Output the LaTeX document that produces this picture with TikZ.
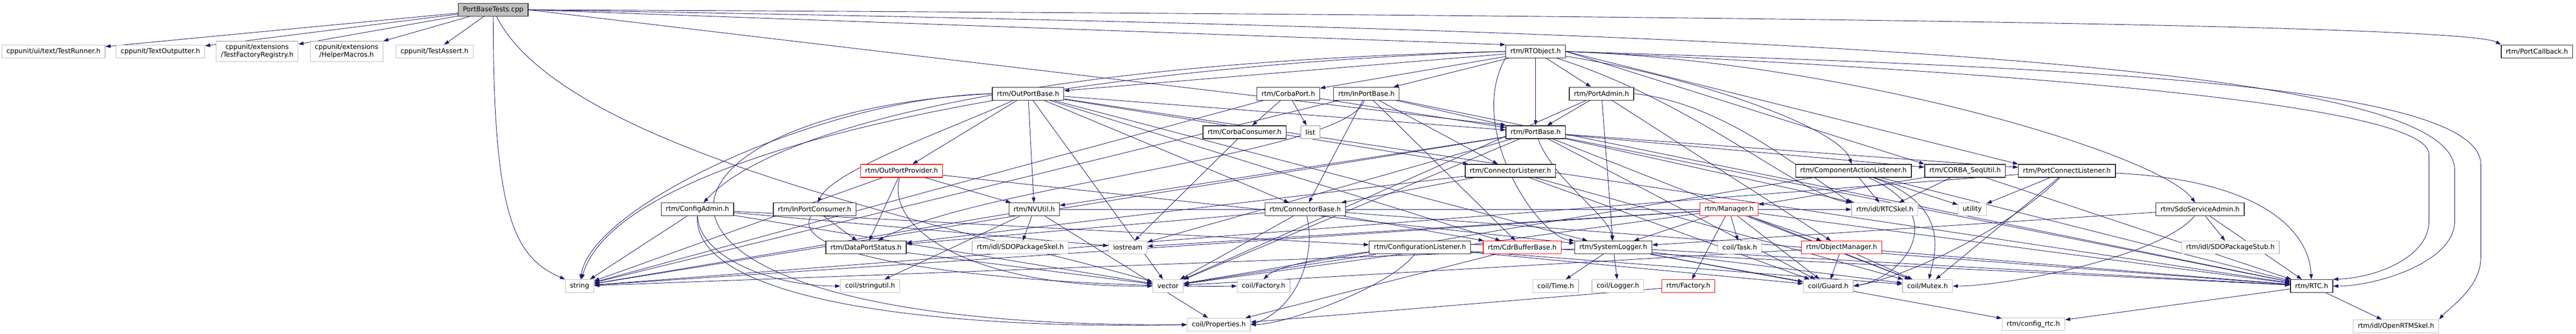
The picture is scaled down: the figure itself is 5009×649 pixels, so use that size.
\documentclass[tikz,border=0pt]{standalone}
\usepackage{fontspec}
\setmainfont{DejaVu Sans}
\usetikzlibrary{arrows.meta}
\definecolor{edgeblue}{RGB}{25,25,112}
\definecolor{extgray}{RGB}{191,191,191}
\pgfdeclarelayer{edges}
\pgfsetlayers{edges,main}
\tikzset{
  file/.style = {draw, fill = white, line width = 1.3pt, inner xsep = 9pt,
    inner ysep = 0pt, minimum height = 25pt, align = center,
    font = \fontsize{13}{15}\selectfont},
  docfile/.style = {file, draw = black!85},
  extfile/.style = {file, draw = extgray},
  cutfile/.style = {file, draw = red},
  rootfile/.style = {file, draw = black!85, fill = extgray},
  dep/.style = {edgeblue, line width = 0.9pt,
    -{Triangle[length = 10pt, width = 7pt]}}
}

\begin{document}
\begin{tikzpicture}[x = 1pt, y = -1pt]
  \useasboundingbox (0, 0) rectangle (5009, 649);

  \node[rootfile] (root) at (959, 19) {PortBaseTests.cpp};

  \node[extfile] (runner) at (104, 100) {cppunit/ui/text/TestRunner.h};
  \node[extfile] (outputter) at (312, 100) {cppunit/TextOutputter.h};
  \node[extfile, minimum height = 40pt] (registry) at (500, 100) {cppunit/extensions\\/TestFactoryRegistry.h};
  \node[extfile, minimum height = 40pt] (macros) at (674, 100) {cppunit/extensions\\/HelperMacros.h};
  \node[extfile] (assert) at (845, 100) {cppunit/TestAssert.h};
  \node[docfile] (rtobject) at (2986, 100) {rtm/RTObject.h};
  \node[docfile] (callback) at (4933, 100) {rtm/PortCallback.h};

  \node[docfile] (outportbase) at (1999, 182) {rtm/OutPortBase.h};
  \node[docfile] (corbaport) at (2505, 182) {rtm/CorbaPort.h};
  \node[docfile] (inportbase) at (2657, 182) {rtm/InPortBase.h};
  \node[docfile] (portadmin) at (3114, 182) {rtm/PortAdmin.h};

  \node[docfile] (corbaconsumer) at (2420, 257) {rtm/CorbaConsumer.h};
  \node[extfile] (list) at (2548, 257) {list};
  \node[docfile] (portbase) at (2986, 257) {rtm/PortBase.h};

  \node[cutfile] (outportprovider) at (1753, 332) {rtm/OutPortProvider.h};
  \node[docfile] (connlistener) at (2937, 332) {rtm/ConnectorListener.h};
  \node[docfile] (compaction) at (3604, 332) {rtm/ComponentActionListener.h};
  \node[docfile] (sequtil) at (3821, 332) {rtm/CORBA\_SeqUtil.h};
  \node[docfile] (portconnect) at (4019, 332) {rtm/PortConnectListener.h};

  \node[docfile] (configadmin) at (1356, 407) {rtm/ConfigAdmin.h};
  \node[docfile] (inportconsumer) at (1584, 407) {rtm/InPortConsumer.h};
  \node[docfile] (nvutil) at (2011, 407) {rtm/NVUtil.h};
  \node[docfile] (connbase) at (2538, 407) {rtm/ConnectorBase.h};
  \node[cutfile] (manager) at (3362, 407) {rtm/Manager.h};
  \node[extfile] (rtcskel) at (3665, 407) {rtm/idl/RTCSkel.h};
  \node[extfile] (utility) at (3835, 407) {utility};
  \node[docfile] (sdoadmin) at (4278, 407) {rtm/SdoServiceAdmin.h};

  \node[docfile] (portstatus) at (1684, 481) {rtm/DataPortStatus.h};
  \node[extfile] (sdoskel) at (1984, 481) {rtm/idl/SDOPackageSkel.h};
  \node[extfile] (iostream) at (2193, 481) {iostream};
  \node[docfile] (conflistener) at (2761, 481) {rtm/ConfigurationListener.h};
  \node[cutfile] (cdrbuffer) at (2960, 481) {rtm/CdrBufferBase.h};
  \node[docfile] (syslogger) at (3137, 481) {rtm/SystemLogger.h};
  \node[extfile] (task) at (3383, 481) {coil/Task.h};
  \node[cutfile] (objmanager) at (3581, 481) {rtm/ObjectManager.h};
  \node[extfile] (sdostub) at (4337, 481) {rtm/idl/SDOPackageStub.h};

  \node[extfile] (string) at (1127, 556) {string};
  \node[extfile] (stringutil) at (1692, 556) {coil/stringutil.h};
  \node[extfile] (vector) at (2271, 556) {vector};
  \node[extfile] (coilfactory) at (2457, 556) {coil/Factory.h};
  \node[extfile] (time) at (3025, 556) {coil/Time.h};
  \node[extfile] (logger) at (3146, 556) {coil/Logger.h};
  \node[cutfile] (rtmfactory) at (3283, 556) {rtm/Factory.h};
  \node[extfile] (guard) at (3555, 556) {coil/Guard.h};
  \node[extfile] (mutex) at (3748, 556) {coil/Mutex.h};
  \node[docfile] (rtc) at (4495, 556) {rtm/RTC.h};

  \node[extfile] (properties) at (2370, 631) {coil/Properties.h};
  \node[extfile] (configrtc) at (3954, 630) {rtm/config\_rtc.h};
  \node[extfile] (openrtm) at (4659, 634) {rtm/idl/OpenRTMSkel.h};

  \begin{pgfonlayer}{edges}
  \draw[dep] (root) -- (runner);
  \draw[dep] (root) -- (outputter);
  \draw[dep] (root) -- (registry);
  \draw[dep] (root) -- (macros);
  \draw[dep] (root) -- (assert);
  \draw[dep] (root.south) .. controls (959, 420) and (1000, 500) .. (string.north west);
  \draw[dep] (root) .. controls (1100, 300) and (1900, 450) .. (vector);
  \draw[dep] (root.east) -- (rtobject.north west);
  \draw[dep] (root.east) -- (portbase.north west);
  \draw[dep] (root.east) .. controls (3500, 30) and (4800, 50) .. (callback.north west);
  \draw[dep] (root.east) .. controls (3500, 60) and (4773, 120) .. (4773, 330)
    -- (4773, 430) .. controls (4773, 510) and (4620, 556) .. (rtc.east);

  \draw[dep] (rtobject) -- (outportbase);
  \draw[dep] (rtobject) -- (corbaport);
  \draw[dep] (rtobject) -- (inportbase);
  \draw[dep] (rtobject) -- (portadmin);
  \draw[dep] (rtobject) -- (portbase);
  \draw[dep] (rtobject.west) .. controls (2000, 120) and (1500, 250) .. (configadmin);
  \draw[dep] (rtobject.west) .. controls (2000, 130) and (1200, 300) .. (string);
  \draw[dep] (rtobject.south west) .. controls (2850, 250) and (2990, 460) .. (syslogger.north west);
  \draw[dep] (rtobject) .. controls (3300, 150) and (3580, 250) .. (compaction);
  \draw[dep] (rtobject.east) -- (sequtil.north west);
  \draw[dep] (rtobject.east) -- (portconnect.north west);
  \draw[dep] (rtobject.east) .. controls (3600, 120) and (4200, 300) .. (sdoadmin);
  \draw[dep] (rtobject) .. controls (3300, 200) and (3500, 380) .. (rtcskel.north west);
  \draw[dep] (rtobject.east) .. controls (3900, 140) and (4723, 200) .. (4723, 300)
    -- (4723, 430) .. controls (4723, 500) and (4620, 540) .. (rtc.north east);
  \draw[dep] (rtobject.east) .. controls (4000, 130) and (4824, 160) .. (4824, 320)
    -- (4824, 500) .. controls (4824, 560) and (4760, 600) .. (openrtm.north east);

  \draw[dep] (outportbase) -- (portbase);
  \draw[dep] (outportbase) -- (outportprovider);
  \draw[dep] (outportbase) .. controls (1850, 250) and (1620, 330) .. (inportconsumer);
  \draw[dep] (outportbase) -- (connbase);
  \draw[dep] (outportbase) -- (connlistener);
  \draw[dep] (outportbase) -- (cdrbuffer);
  \draw[dep] (outportbase) -- (syslogger);
  \draw[dep] (outportbase) -- (nvutil);
  \draw[dep] (outportbase.west) .. controls (1600, 190) and (1150, 400) .. (string);
  \draw[dep] (outportbase) -- (vector);
  \draw[dep] (outportbase.west) .. controls (1200, 220) and (1100, 640) .. (properties.west);
  \draw[dep] (outportbase) -- (rtc);

  \draw[dep] (corbaport) -- (portbase);
  \draw[dep] (corbaport) -- (corbaconsumer);
  \draw[dep] (corbaport) -- (list);
  \draw[dep] (corbaport) -- (string);

  \draw[dep] (inportbase) -- (portbase);
  \draw[dep] (inportbase) -- (connlistener);
  \draw[dep] (inportbase) -- (cdrbuffer);
  \draw[dep] (inportbase) -- (connbase);
  \draw[dep] (inportbase) .. controls (2620, 300) and (1900, 360) .. (portstatus);
  \draw[dep] (inportbase) -- (rtc);
  \draw[dep] (inportbase) -- (string);

  \draw[dep] (portadmin) -- (portbase);
  \draw[dep] (portadmin) -- (syslogger);
  \draw[dep] (portadmin) -- (objmanager);
  \draw[dep] (portadmin.east) .. controls (3350, 200) and (3500, 330) .. (rtcskel.north west);
  \draw[dep] (portadmin) -- (vector);

  \draw[dep] (corbaconsumer) -- (iostream);

  \draw[dep] (portbase) -- (string);
  \draw[dep] (portbase) -- (vector);
  \draw[dep] (portbase) -- (rtcskel);
  \draw[dep] (portbase) -- (sequtil);
  \draw[dep] (portbase) -- (nvutil);
  \draw[dep] (portbase) .. controls (3020, 350) and (3130, 420) .. (syslogger);
  \draw[dep] (portbase) -- (portconnect);
  \draw[dep] (portbase) -- (guard);
  \draw[dep] (portbase) -- (mutex);
  \draw[dep] (portbase) -- (rtc);
  \draw[dep] (portbase) -- (iostream);

  \draw[dep] (outportprovider) -- (string);
  \draw[dep] (outportprovider) -- (portstatus);
  \draw[dep] (outportprovider) -- (nvutil);
  \draw[dep] (outportprovider) .. controls (1720, 450) and (1900, 560) .. (vector.west);
  \draw[dep] (outportprovider) -- (syslogger);

  \draw[dep] (connlistener) -- (connbase);
  \draw[dep] (connlistener) -- (portstatus);
  \draw[dep] (connlistener) -- (guard);
  \draw[dep] (connlistener) -- (mutex);

  \draw[dep] (compaction) -- (rtcskel);
  \draw[dep] (compaction) -- (utility);
  \draw[dep] (compaction) .. controls (3800, 420) and (3700, 540) .. (guard.east);
  \draw[dep] (compaction) .. controls (3800, 400) and (3760, 500) .. (mutex);
  \draw[dep] (compaction) -- (vector);
  \draw[dep] (compaction) -- (rtc);

  \draw[dep] (sequtil) -- (rtcskel);
  \draw[dep] (sequtil) -- (manager);
  \draw[dep] (sequtil) -- (rtc);

  \draw[dep] (portconnect) -- (utility);
  \draw[dep] (portconnect) .. controls (3900, 450) and (3700, 540) .. (guard.east);
  \draw[dep] (portconnect) -- (mutex);
  \draw[dep] (portconnect) .. controls (4400, 350) and (4490, 450) .. (rtc);
  \draw[dep] (portconnect) -- (string);

  \draw[dep] (configadmin) -- (conflistener);
  \draw[dep] (configadmin) -- (iostream);
  \draw[dep] (configadmin) -- (string);
  \draw[dep] (configadmin) -- (vector);
  \draw[dep] (configadmin) .. controls (1360, 500) and (1500, 556) .. (stringutil.west);
  \draw[dep] (configadmin) .. controls (1350, 600) and (1900, 640) .. (properties.west);

  \draw[dep] (inportconsumer) -- (portstatus);
  \draw[dep] (inportconsumer) .. controls (1520, 520) and (2100, 560) .. (coilfactory.west);

  \draw[dep] (nvutil) -- (sdoskel);
  \draw[dep] (nvutil) -- (string);
  \draw[dep] (nvutil) -- (stringutil);
  \draw[dep] (nvutil) -- (properties);
  \draw[dep] (nvutil) -- (rtcskel);

  \draw[dep] (connbase) -- (portstatus);
  \draw[dep] (connbase) -- (cdrbuffer);
  \draw[dep] (connbase) .. controls (2560, 500) and (2520, 600) .. (properties.east);
  \draw[dep] (connbase) -- (vector);
  \draw[dep] (connbase) -- (rtc);

  \draw[dep] (manager) -- (syslogger);
  \draw[dep] (manager) -- (task);
  \draw[dep] (manager) -- (rtmfactory);
  \draw[dep] (manager) -- (guard);
  \draw[dep] (manager) -- (mutex);
  \draw[dep] (manager) -- (objmanager);
  \draw[dep] (manager) -- (rtc);
  \draw[dep] (manager) -- (string);
  \draw[dep] (manager) -- (vector);
  \draw[dep] (manager) -- (iostream);

  \draw[dep] (sdoadmin) -- (sdostub);
  \draw[dep] (sdoadmin) -- (syslogger);
  \draw[dep] (sdoadmin) .. controls (4200, 500) and (3900, 556) .. (mutex.east);
  \draw[dep] (sdoadmin) -- (rtc);

  \draw[dep] (portstatus) -- (vector);

  \draw[dep] (conflistener) .. controls (2700, 560) and (2500, 630) .. (properties.east);
  \draw[dep] (conflistener) -- (guard);
  \draw[dep] (conflistener) -- (mutex);
  \draw[dep] (conflistener) -- (vector);

  \draw[dep] (cdrbuffer) .. controls (2800, 470) and (2500, 500) .. (coilfactory.north);
  \draw[dep] (cdrbuffer) -- (properties);
  \draw[dep] (cdrbuffer) -- (rtc);

  \draw[dep] (syslogger) -- (time);
  \draw[dep] (syslogger) -- (logger);
  \draw[dep] (syslogger) -- (configrtc);
  \draw[dep] (syslogger) -- (guard);
  \draw[dep] (syslogger) -- (mutex);
  \draw[dep] (syslogger) -- (string);
  \draw[dep] (syslogger) -- (rtc);

  \draw[dep] (objmanager) -- (guard);
  \draw[dep] (objmanager) -- (mutex);
  \draw[dep] (objmanager) -- (vector);
  \draw[dep] (objmanager) -- (rtc);

  \draw[dep] (rtmfactory) -- (properties);

  \draw[dep] (rtc) -- (configrtc);
  \draw[dep] (rtc) -- (openrtm);
  \end{pgfonlayer}
\end{tikzpicture}
\end{document}
